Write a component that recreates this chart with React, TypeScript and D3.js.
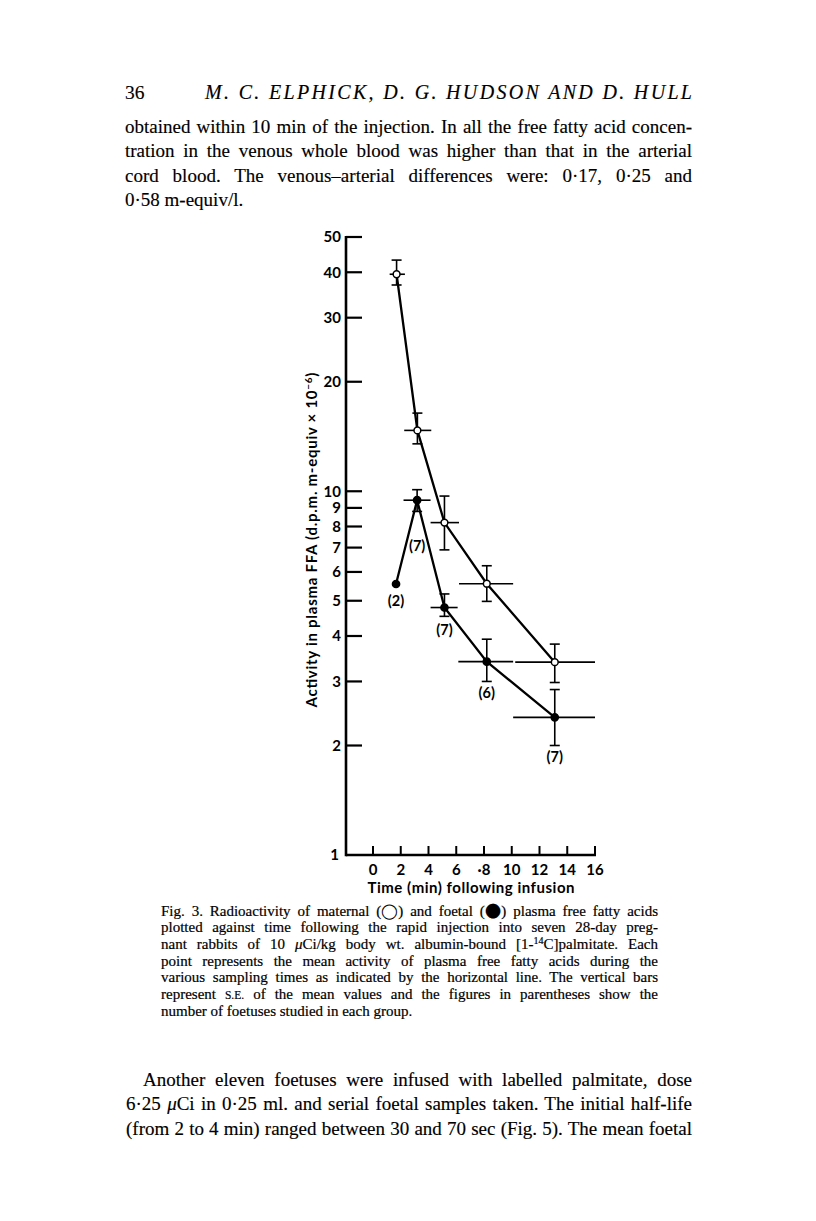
import React, { useEffect, useRef } from "react";
import * as d3 from "d3";

// Maternal (open circles)
const maternalTime = [1.7, 3.2, 5.15, 8.2, 13.1];
const maternalMean = [39.5, 14.7, 8.2, 5.57, 3.39];
const maternalHigh = [43.2, 16.4, 9.7, 6.24, 3.8];
const maternalLow = [36.9, 13.5, 6.9, 4.98, 2.98];
const maternalFrom = [1.2, 2.25, 4.15, 6.2, 10.25];
const maternalTo = [2.3, 4.2, 6.2, 10.1, 16];

// Foetal (filled circles)
const foetalTime = [1.66, 3.18, 5.15, 8.2, 13.1];
const foetalMean = [5.56, 9.45, 4.79, 3.4, 2.39];
const foetalHigh = [null, 10.1, 5.22, 3.92, 2.85];
const foetalLow = [null, 8.8, 4.53, 3.0, 2.0];
const foetalFrom = [null, 2.2, 4.15, 6.15, 10.1];
const foetalTo = [null, 4.15, 6.1, 10.1, 16];
const foetalN = ["(2)", "(7)", "(7)", "(6)", "(7)"];
const foetalNAt = [4.99, 7.1, 4.15, 2.79, 1.86];

const xTicks = [0, 2, 4, 6, 8, 10, 12, 14, 16];
const xTickLabels = ["0", "2", "4", "6", "·8", "10", "12", "14", "16"];
const yTicks = [1, 2, 3, 4, 5, 6, 7, 8, 9, 10, 20, 30, 40, 50];

const topLines = [
    "obtained within 10 min of the injection. In all the free fatty acid concen-",
    "tration in the venous whole blood was higher than that in the arterial",
    "cord blood. The venous–arterial differences were: 0·17, 0·25 and",
    "0·58 m-equiv/l.",
];
const bottomLines = [
    "Another eleven foetuses were infused with labelled palmitate, dose",
    "6·25 μCi in 0·25 ml. and serial foetal samples taken. The initial half-life",
    "(from 2 to 4 min) ranged between 30 and 70 sec (Fig. 5). The mean foetal",
];

const SERIF = "'Liberation Serif', 'Times New Roman', serif";
const SANS = "Lato, 'Open Sans', sans-serif";

const App = () => {
    const svgRef = useRef<SVGSVGElement>(null);

    useEffect(() => {
        const svg = d3.select(svgRef.current);
        svg.selectAll("*").remove();

        // stretch word gaps so the line fills the given width
        const justify = (t: any, width: number) => {
            const node = t.node();
            const len = node.getComputedTextLength();
            const spaces = (node.textContent.match(/ /g) || []).length;
            if (spaces > 0) t.attr("word-spacing", (width - len) / spaces);
        };

        // ── Running head ─────────────────────────────────────────────
        svg.append("text").attr("x", 125).attr("y", 99)
            .attr("font-family", SERIF).attr("font-size", 19.5)
            .attr("stroke", "#000").attr("stroke-width", 0.15).text("36");
        svg.append("text").attr("x", 205).attr("y", 99)
            .attr("font-family", SERIF).attr("font-size", 20).attr("font-style", "italic")
            .attr("stroke", "#000").attr("stroke-width", 0.15)
            .attr("textLength", 487).attr("lengthAdjust", "spacing")
            .text("M. C. ELPHICK, D. G. HUDSON AND D. HULL");

        // ── Body text ───────────────────────────────────────────────
        topLines.forEach((line, i) => {
            const t = svg.append("text").attr("x", 125).attr("y", 133 + i * 24.3)
                .attr("font-family", SERIF).attr("font-size", 19)
                .attr("stroke", "#000").attr("stroke-width", 0.15).text(line);
            if (i < topLines.length - 1) justify(t, 567);
        });
        bottomLines.forEach((line, i) => {
            const x0 = i === 0 ? 143 : 126;
            const t = svg.append("text").attr("x", x0).attr("y", 1086 + i * 24.3)
                .attr("font-family", SERIF).attr("font-size", 19)
                .attr("stroke", "#000").attr("stroke-width", 0.15);
            line.split("μ").forEach((part, k) => {
                if (k > 0) t.append("tspan").attr("font-style", "italic").text("μ");
                t.append("tspan").text(part);
            });
            justify(t, 692 - x0);
        });

        // ── Caption ─────────────────────────────────────────────────
        const capY = (i: number) => 915.5 + i * 16.7;
        const cap = (i: number) => svg.append("text").attr("x", 161).attr("y", capY(i))
            .attr("font-family", SERIF).attr("font-size", 15)
            .attr("stroke", "#000").attr("stroke-width", 0.2);
        let c = cap(0);
        c.append("tspan").text("Fig. 3. Radioactivity of maternal (");
        c.append("tspan").attr("stroke-width", 0).text("◯");
        c.append("tspan").text(") and foetal (");
        c.append("tspan").attr("font-size", 19).attr("font-family", "'DejaVu Sans'").text("●");
        c.append("tspan").text(") plasma free fatty acids");
        justify(c, 497);
        c = cap(1).text("plotted against time following the rapid injection into seven 28-day preg-");
        justify(c, 497);
        c = cap(2);
        c.append("tspan").text("nant rabbits of 10 ");
        c.append("tspan").attr("font-style", "italic").text("μ");
        c.append("tspan").text("Ci/kg body wt. albumin-bound [1-");
        c.append("tspan").attr("font-size", 10).attr("dy", -5).text("14");
        c.append("tspan").attr("dy", 5).text("C]palmitate. Each");
        justify(c, 497);
        c = cap(3).text("point represents the mean activity of plasma free fatty acids during the");
        justify(c, 497);
        c = cap(4).text("various sampling times as indicated by the horizontal line. The vertical bars");
        justify(c, 497);
        c = cap(5);
        c.append("tspan").text("represent ");
        c.append("tspan").attr("font-size", 11.5).text("S.E.");
        c.append("tspan").text(" of the mean values and the figures in parentheses show the");
        justify(c, 497);
        cap(6).text("number of foetuses studied in each group.");

        // ── Chart ───────────────────────────────────────────────────
        const x = d3.scaleLinear().domain([0, 16]).range([373, 595]);
        const y = d3.scaleLog().domain([1, 50]).range([855, 237]);
        const axisLeftX = 346;
        const g = svg.append("g");

        // axes
        g.append("line").attr("x1", axisLeftX).attr("x2", axisLeftX)
            .attr("y1", y(50) - 1).attr("y2", y(1) + 1.2)
            .attr("stroke", "#000").attr("stroke-width", 2.6);
        g.append("line").attr("x1", axisLeftX).attr("x2", x(16) + 1)
            .attr("y1", y(1)).attr("y2", y(1))
            .attr("stroke", "#000").attr("stroke-width", 2.6);

        yTicks.forEach(v => {
            if (v > 1) {
                g.append("line").attr("x1", axisLeftX).attr("x2", axisLeftX + 16)
                    .attr("y1", y(v)).attr("y2", y(v))
                    .attr("stroke", "#000").attr("stroke-width", 2.2);
            }
            g.append("text").attr("x", v === 1 ? 339 : 341).attr("y", y(v)).attr("dy", "0.36em")
                .attr("text-anchor", "end").attr("font-family", SANS).attr("font-weight", 700)
                .attr("font-size", 15).text(String(v));
        });

        xTicks.forEach((v, i) => {
            g.append("line").attr("x1", x(v)).attr("x2", x(v))
                .attr("y1", y(1)).attr("y2", y(1) - 9)
                .attr("stroke", "#000").attr("stroke-width", 2);
            g.append("text").attr("x", x(v)).attr("y", 875)
                .attr("text-anchor", "middle").attr("font-family", SANS).attr("font-weight", 700)
                .attr("font-size", 15).text(xTickLabels[i]);
        });

        g.append("text").attr("x", 471).attr("y", 893)
            .attr("text-anchor", "middle").attr("font-family", SANS).attr("font-weight", 700)
            .attr("font-size", 15).attr("textLength", 207).attr("lengthAdjust", "spacing")
            .text("Time (min) following infusion");

        const yl = g.append("text").attr("transform", "translate(317,540) rotate(-90)")
            .attr("text-anchor", "middle").attr("font-family", SANS).attr("font-weight", 700)
            .attr("font-size", 15).attr("textLength", 335).attr("lengthAdjust", "spacing");
        yl.append("tspan").text("Activity in plasma FFA  (d.p.m. m-equiv × 10");
        yl.append("tspan").attr("font-size", 10).attr("dy", -5).text("−6");
        yl.append("tspan").attr("dy", 5).text(")");

        // series
        const line = d3.line<[number, number]>().x(d => x(d[0])).y(d => y(d[1]));
        const drawSeries = (t: number[], m: number[], hi: (number | null)[], lo: (number | null)[],
                            from: (number | null)[], to: (number | null)[], filled: boolean) => {
            g.append("path").datum(t.map((v, i) => [v, m[i]] as [number, number]))
                .attr("d", line).attr("fill", "none").attr("stroke", "#000").attr("stroke-width", 2.3);
            t.forEach((tv, i) => {
                const cx = x(tv), cy = y(m[i]);
                if (hi[i] != null && lo[i] != null) {
                    g.append("line").attr("x1", cx).attr("x2", cx)
                        .attr("y1", y(hi[i] as number)).attr("y2", y(lo[i] as number))
                        .attr("stroke", "#000").attr("stroke-width", 1.6);
                    [hi[i], lo[i]].forEach(v => {
                        g.append("line").attr("x1", cx - 5).attr("x2", cx + 5)
                            .attr("y1", y(v as number)).attr("y2", y(v as number))
                            .attr("stroke", "#000").attr("stroke-width", 1.6);
                    });
                }
                if (from[i] != null && to[i] != null) {
                    g.append("line").attr("x1", x(from[i] as number)).attr("x2", x(to[i] as number))
                        .attr("y1", cy).attr("y2", cy)
                        .attr("stroke", "#000").attr("stroke-width", 1.6);
                }
            });
            t.forEach((tv, i) => {
                g.append("circle").attr("cx", x(tv)).attr("cy", y(m[i])).attr("r", filled ? 3.6 : 3.4)
                    .attr("fill", filled ? "#000" : "#fff")
                    .attr("stroke", "#000").attr("stroke-width", 1.5);
            });
        };

        drawSeries(foetalTime, foetalMean, foetalHigh, foetalLow, foetalFrom, foetalTo, true);
        drawSeries(maternalTime, maternalMean, maternalHigh, maternalLow, maternalFrom, maternalTo, false);

        foetalN.forEach((lab, i) => {
            g.append("text").attr("x", x(foetalTime[i])).attr("y", y(foetalNAt[i])).attr("dy", "0.36em")
                .attr("text-anchor", "middle").attr("font-family", SANS).attr("font-weight", 700)
                .attr("font-size", 14.5).text(lab);
        });
    }, []);

    return (
        <svg ref={svgRef} width={816} height={1221}
             style={{ position: "absolute", left: 0, top: 0, background: "#fff" }} />
    );
};

export default App;
